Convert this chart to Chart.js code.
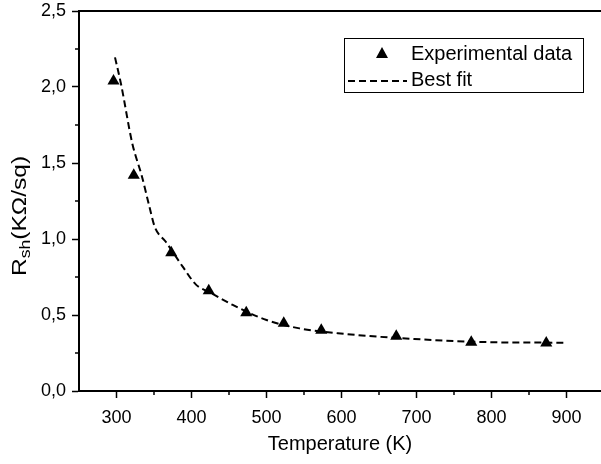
<!DOCTYPE html>
<html>
<head>
<meta charset="utf-8">
<script src="https://cdn.jsdelivr.net/npm/chart.js@4/dist/chart.umd.min.js"></script>
<style>
    html, body { margin: 0; padding: 0; background: #fff; overflow: hidden; }
    #wrap { width: 601px; height: 464px; }
</style>
</head>
<body>
<div id="wrap"><canvas id="rshChart" width="601" height="464"></canvas></div>
<script>
// measured points (temperature K, sheet resistance kOhm/sq)
const expTemps = [296, 323, 373, 423, 473, 523, 573, 673, 773, 873];
const expRsh = [2.04, 1.42, 0.91, 0.66, 0.515, 0.445, 0.40, 0.36, 0.32, 0.315];

// fitted curve
const fitTemps = [298, 306, 321, 334, 344, 351, 366, 388, 406, 426, 455, 500, 544, 595, 697, 811, 901];
const fitRsh = [2.195, 2.02, 1.63, 1.41, 1.21, 1.08, 0.98, 0.82, 0.70, 0.645, 0.566, 0.467, 0.412, 0.38, 0.342, 0.32, 0.318];

const xTicks = [300, 400, 500, 600, 700, 800, 900];
const xMinorTicks = [350, 450, 550, 650, 750, 850];
const yTicks = [0, 0.5, 1.0, 1.5, 2.0, 2.5];
const yMinorTicks = [0.25, 0.75, 1.25, 1.75, 2.25];

const FONT = '"Liberation Sans", Arial, sans-serif';

const framePlugin = {
    id: 'frame',
    afterDraw(chart) {
        const { ctx, chartArea, scales } = chart;
        ctx.save();
        ctx.strokeStyle = '#000';

        // top frame line
        ctx.lineWidth = 2;
        ctx.beginPath();
        ctx.moveTo(chartArea.left, chartArea.top);
        ctx.lineTo(chartArea.right, chartArea.top);
        ctx.stroke();

        // minor ticks
        ctx.lineWidth = 1.5;
        xMinorTicks.forEach(v => {
            const px = scales.x.getPixelForValue(v);
            ctx.beginPath();
            ctx.moveTo(px, chartArea.bottom);
            ctx.lineTo(px, chartArea.bottom + 4);
            ctx.stroke();
        });
        yMinorTicks.forEach(v => {
            const py = scales.y.getPixelForValue(v);
            ctx.beginPath();
            ctx.moveTo(chartArea.left, py);
            ctx.lineTo(chartArea.left - 4, py);
            ctx.stroke();
        });

        // y title with subscript (the scanned font runs wide, so stretch a bit)
        ctx.fillStyle = '#000';
        ctx.translate(26, 276);
        ctx.rotate(-Math.PI / 2);
        ctx.scale(1.17, 1);
        ctx.textBaseline = 'alphabetic';
        ctx.font = '21px ' + FONT;
        ctx.fillText('R', 0, 0);
        let off = ctx.measureText('R').width;
        ctx.font = '15px ' + FONT;
        ctx.fillText('sh', off, 4);
        off += ctx.measureText('sh').width;
        ctx.font = '21px ' + FONT;
        ctx.fillText('(KΩ/sq)', off, 0);
        ctx.restore();

        // legend
        ctx.save();
        ctx.strokeStyle = '#000';
        ctx.lineWidth = 1;
        ctx.strokeRect(344.5, 38.5, 239, 54);
        ctx.fillStyle = '#000';
        ctx.beginPath();
        ctx.moveTo(382, 47);
        ctx.lineTo(388, 58);
        ctx.lineTo(376, 58);
        ctx.closePath();
        ctx.fill();
        ctx.lineWidth = 2;
        ctx.setLineDash([7, 4]);
        ctx.beginPath();
        ctx.moveTo(348, 81);
        ctx.lineTo(407, 81);
        ctx.stroke();
        ctx.setLineDash([]);
        ctx.font = '20px ' + FONT;
        ctx.textBaseline = 'middle';
        ctx.fillText(chart.data.datasets[0].label, 411, 54);
        ctx.fillText(chart.data.datasets[1].label, 411, 80);
        ctx.restore();
    }
};

new Chart(document.getElementById('rshChart'), {
    type: 'scatter',
    data: {
        datasets: [
            {
                label: 'Experimental data',
                data: expTemps.map((t, i) => ({ x: t, y: expRsh[i] })),
                pointStyle: 'triangle',
                pointRadius: 7,
                backgroundColor: '#000',
                borderColor: '#000',
                borderWidth: 0
            },
            {
                label: 'Best fit',
                type: 'line',
                data: fitTemps.map((t, i) => ({ x: t, y: fitRsh[i] })),
                borderColor: '#000',
                borderWidth: 2,
                borderDash: [7, 4],
                pointRadius: 0,
                fill: false,
                cubicInterpolationMode: 'monotone'
            }
        ]
    },
    options: {
        responsive: false,
        animation: false,
        layout: { autoPadding: false, padding: { top: 11, right: 0, left: 0, bottom: 0 } },
        plugins: {
            legend: { display: false },
            tooltip: { enabled: false }
        },
        scales: {
            x: {
                type: 'linear',
                min: 250,
                max: 946,
                afterBuildTicks: s => { s.ticks = xTicks.map(v => ({ value: v })); },
                afterFit: s => { s.height = 73; s.paddingLeft = 0; s.paddingRight = 0; },
                grid: { drawOnChartArea: false, tickLength: 7, tickWidth: 1.5, tickColor: '#000' },
                border: { color: '#000', width: 2 },
                ticks: { color: '#000', font: { family: FONT, size: 18 }, padding: 9, maxRotation: 0 },
                title: {
                    display: true,
                    text: 'Temperature (K)',
                    color: '#000',
                    font: { family: FONT, size: 20 },
                    padding: { top: 10, bottom: 8 }
                }
            },
            y: {
                min: 0,
                max: 2.5,
                afterBuildTicks: s => { s.ticks = yTicks.map(v => ({ value: v })); },
                afterFit: s => { s.width = 79; s.paddingTop = 0; s.paddingBottom = 0; },
                grid: { drawOnChartArea: false, tickLength: 7, tickWidth: 1.5, tickColor: '#000' },
                border: { color: '#000', width: 2 },
                ticks: {
                    color: '#000',
                    font: { family: FONT, size: 18 },
                    padding: 6,
                    callback: v => v.toFixed(1).replace('.', ',')
                }
            }
        }
    },
    plugins: [framePlugin]
});
</script>
</body>
</html>
